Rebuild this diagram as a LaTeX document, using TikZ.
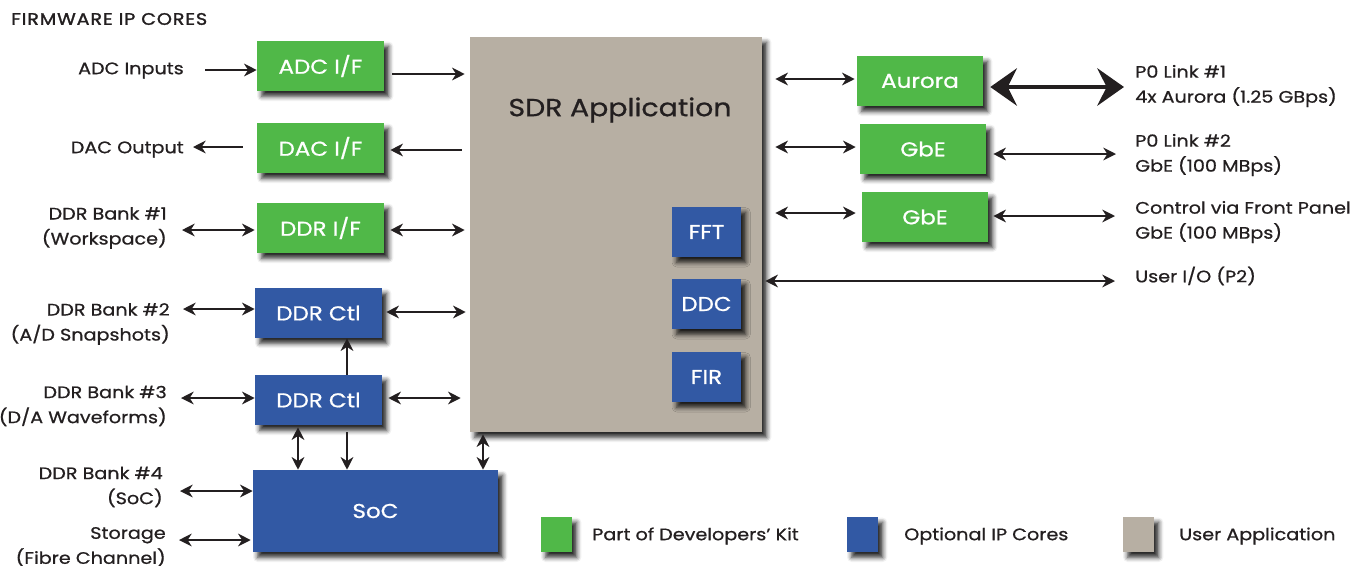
\documentclass[tikz,border=0pt]{standalone}
\usepackage{fontspec}
\setmainfont{Poppins}[FakeStretch=1.15,FakeBold=0.8]
\usetikzlibrary{arrows.meta,shadows.blur}
\definecolor{kitgreen}{HTML}{50B848}
\definecolor{ipblue}{HTML}{3259A4}
\definecolor{appgray}{HTML}{B7AFA3}
\definecolor{ink}{HTML}{231F20}
\begin{document}
\begin{tikzpicture}[x=0.75pt,y=-0.75pt,
  w/.style={minimum width=#1*0.75pt},
  h/.style={minimum height=#1*0.75pt},
  shade/.style={blur shadow={shadow xshift=3.5pt,shadow yshift=-4pt,shadow blur radius=3.5pt,shadow opacity=85}},
  core/.style={shade,draw=none,inner sep=0pt,text=white,font=\fontsize{15}{18}\selectfont},
  kitbox/.style={core,fill=kitgreen},
  ipbox/.style={core,fill=ipblue},
  lbl/.style={text=ink,inner sep=0pt,font=\fontsize{12.5}{18.75}\selectfont},
  lft/.style={lbl,anchor=east,align=right},
  rgt/.style={lbl,anchor=west,align=left},
  arr/.style={draw=ink,line width=1.4pt,-{Stealth[length=9.5pt,width=9.5pt,inset=3pt]}},
  biarr/.style={draw=ink,line width=1.4pt,{Stealth[length=9.5pt,width=9.5pt,inset=3pt]}-{Stealth[length=9.5pt,width=9.5pt,inset=3pt]}},
  fatarr/.style={draw=ink,line width=3.5pt,{Stealth[length=20pt,width=28pt,inset=7pt]}-{Stealth[length=20pt,width=28pt,inset=7pt]}},
]
\useasboundingbox (0,0) rectangle (1361,565);

% title
\node[lbl,anchor=west,font=\fontsize{12.5}{14}\selectfont\addfontfeature{LetterSpace=5,FakeBold=1.6}] (title) at (11,19) {FIRMWARE IP CORES};

% user application block with its embedded cores
\node[shade,fill=appgray,inner sep=0pt,w=292,h=395] (sdr) at (616,234.5) {};
\node[text=ink,inner sep=0pt,font=\fontsize{18.5}{22}\selectfont] (sdrlbl) at (620,110) {SDR Application};
\node[ipbox,w=69,h=50] (fft) at (706.5,232) {FFT};
\node[ipbox,w=69,h=50] (ddc) at (706.5,304) {DDC};
\node[ipbox,w=69,h=50] (fir) at (706.5,377) {FIR};

% left-hand interface cores
\node[kitbox,w=127,h=50] (adc) at (320.5,66) {ADC I/F};
\node[kitbox,w=127,h=50] (dac) at (320.5,148) {DAC I/F};
\node[kitbox,w=127,h=50] (ddri) at (320.5,228) {DDR I/F};
\node[ipbox,w=127,h=50] (ctla) at (318.5,313) {DDR Ctl};
\node[ipbox,w=127,h=50] (ctlb) at (318.5,400) {DDR Ctl};
\node[ipbox,w=245,h=82] (soc) at (375.5,511) {SoC};

% right-hand interface cores
\node[kitbox,w=126,h=50] (aurora) at (920,81) {Aurora};
\node[kitbox,w=126,h=50] (gbea) at (923,149) {GbE};
\node[kitbox,w=126,h=50] (gbeb) at (925,217) {GbE};

% left labels
\node[lft] (adcin) at (184,70.5) {ADC Inputs};
\node[lft] (dacout) at (184,149.5) {DAC Output};
\node[lft] (bank1) at (167,228) {DDR Bank \#1\\(Workspace)};
\node[lft] (bank2) at (170,324) {DDR Bank \#2\\(A/D Snapshots)};
\node[lft] (bank3) at (167,406) {DDR Bank \#3\\(D/A Waveforms)};
\node[lft] (bank4) at (163,487) {DDR Bank \#4\\(SoC)};
\node[lft] (store) at (166,547) {Storage\\(Fibre Channel)};

% right labels
\node[rgt] (link1) at (1135,86) {P0 Link \#1\\4x Aurora (1.25 GBps)};
\node[rgt] (link2) at (1135,155) {P0 Link \#2\\GbE (100 MBps)};
\node[rgt] (front) at (1135,222) {Control via Front Panel\\GbE (100 MBps)};
\node[rgt] (userio) at (1135,276) {User I/O (P2)};

% legend
\node[shade,fill=kitgreen,inner sep=0pt,w=31,h=35] (legkit) at (556.5,534.5) {};
\node[lbl,anchor=west] (legkittxt) at (592,536) {Part of Developers’ Kit};
\node[shade,fill=ipblue,inner sep=0pt,w=31,h=35] (legip) at (862.5,534.5) {};
\node[lbl,anchor=west] (legiptxt) at (904,536) {Optional IP Cores};
\node[shade,fill=appgray,inner sep=0pt,w=31,h=35] (legapp) at (1138.5,534.5) {};
\node[lbl,anchor=west] (legapptxt) at (1179,536) {User Application};

% left connectors
\draw[arr,shorten <=15.75pt] (adcin.east |- 0,70) -- (adc.west |- 0,70);
\draw[arr,shorten <=6pt,shorten >=3.75pt] (adc.east |- 0,74) -- (sdr.west |- 0,74);
\draw[arr,shorten <=10.5pt,shorten >=6.75pt] (dac.west |- 0,147) -- (dacout.east |- 0,147);
\draw[arr,shorten <=6pt,shorten >=4.5pt] (sdr.west |- 0,150) -- (dac.east |- 0,150);
\draw[biarr,shorten <=11.25pt,shorten >=1.5pt] (bank1.east |- 0,230) -- (ddri.west |- 0,230);
\draw[biarr,shorten <=4.5pt,shorten >=3.75pt] (ddri.east |- 0,230) -- (sdr.west |- 0,230);
\draw[biarr,shorten <=9.75pt] (bank2.east |- 0,309) -- (ctla.west |- 0,309);
\draw[biarr,shorten <=3pt,shorten >=3pt] (ctla.east |- 0,312) -- (sdr.west |- 0,312);
\draw[arr] (ctlb.north -| 347,0) -- (ctla.south -| 347,0);
\draw[biarr,shorten <=10.5pt] (bank3.east |- 0,398) -- (ctlb.west |- 0,398);
\draw[biarr,shorten <=4.5pt,shorten >=6.75pt] (ctlb.east |- 0,398) -- (sdr.west |- 0,398);
\draw[biarr,shorten <=1.5pt] (ctlb.south -| 298,0) -- (soc.north -| 298,0);
\draw[arr,shorten <=5.25pt] (ctlb.south -| 347,0) -- (soc.north -| 347,0);
\draw[biarr,shorten <=1.5pt] (sdr.south -| 483,0) -- (soc.north -| 483,0);
\draw[biarr,shorten <=12.75pt] (bank4.east |- 0,491) -- (soc.west |- 0,491);
\draw[biarr,shorten <=9.75pt,shorten >=1.5pt] (store.east |- 0,540) -- (soc.west |- 0,540);

% right connectors
\draw[biarr,shorten <=9.75pt,shorten >=1.5pt] (sdr.east |- 0,79) -- (aurora.west |- 0,79);
\draw[fatarr,shorten <=5.25pt,shorten >=8.25pt] (aurora.east |- 0,87) -- (link1.west |- 0,87);
\draw[biarr,shorten <=9.75pt,shorten >=3pt] (sdr.east |- 0,147) -- (gbea.west |- 0,147);
\draw[biarr,shorten <=5.25pt,shorten >=14.25pt] (gbea.east |- 0,154) -- (link2.west |- 0,154);
\draw[biarr,shorten <=9.75pt,shorten >=4.5pt] (sdr.east |- 0,213) -- (gbeb.west |- 0,213);
\draw[biarr,shorten <=3.75pt,shorten >=15pt] (gbeb.east |- 0,216) -- (front.west |- 0,216);
\draw[biarr,shorten <=2.25pt,shorten >=15pt] (sdr.east |- 0,281) -- (userio.west |- 0,281);
\end{tikzpicture}
\end{document}
